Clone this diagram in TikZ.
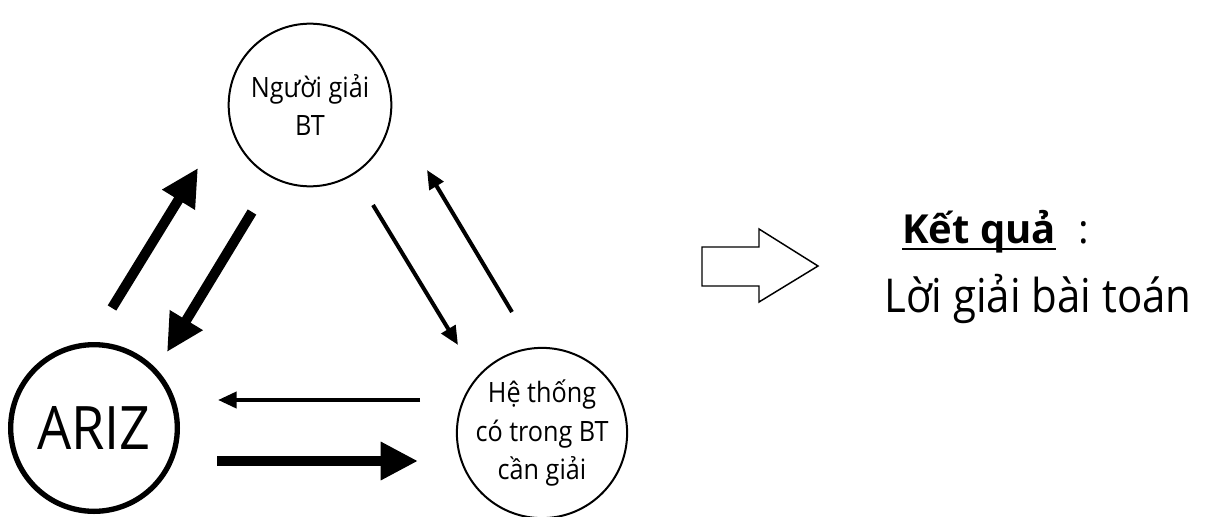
\documentclass[tikz,border=0pt]{standalone}
\usepackage{fontspec}
\setmainfont[FakeStretch=0.9]{Open Sans}
\newfontfamily\headfont{Open Sans}
\usetikzlibrary{arrows.meta}

\tikzset{
  bubble/.style={circle, draw, line width=1.5pt, minimum size=122pt, inner sep=0pt,
    align=center, font=\fontsize{21}{29}\selectfont},
  heavy/.style={line width=7.5pt, -{Triangle[length=28pt, width=27pt]}},
  light/.style={line width=3pt, -{Triangle[length=14pt, width=12pt]}},
  label/.style={anchor=base west, inner sep=0pt},
}

\begin{document}
\begin{tikzpicture}[x=0.75pt, y=-0.75pt]
\useasboundingbox (0,0) rectangle (1223,517);

% the three participants
\node[bubble] (solver) at (310,105) {Người giải\\BT};
\node[bubble] (system) at (542,433) {Hệ thống\\có trong BT\\cần giải};
\node[circle, draw, line width=4pt, minimum size=125pt, inner sep=0pt,
      font=\fontsize{45}{50}\selectfont] (ariz) at (94,428) {ARIZ};

% end points of the exchange arrows
\coordinate (a1) at (112,308);  \coordinate (a2) at (198,168);
\coordinate (b1) at (252,212);  \coordinate (b2) at (167,352);
\coordinate (c1) at (373,205);  \coordinate (c2) at (458,345);
\coordinate (d1) at (512,312);  \coordinate (d2) at (427,170);
\coordinate (e1) at (420,400);  \coordinate (e2) at (218,400);
\coordinate (f1) at (217,461);  \coordinate (f2) at (418,461);

\draw[heavy] (a1) -- (a2);
\draw[heavy] (b1) -- (b2);
\draw[light] (c1) -- (c2);
\draw[light] (d1) -- (d2);
\draw[light] (e1) -- (e2);
\draw[heavy] (f1) -- (f2);

% hollow block arrow towards the result
\draw[line width=1.1pt, line join=miter]
  (702,247) -- (759,247) -- (759,229) -- (818,266) -- (759,302) -- (759,286) -- (702,286) -- cycle;

% result
\node[label, font=\headfont\fontsize{30}{34}\selectfont\bfseries] (kq) at (902,243) {Kết quả};
\draw[line width=2.2pt] ([yshift=-4.5pt]kq.base west) -- ([yshift=-4.5pt]kq.base east);
\node[label, font=\headfont\fontsize{30}{34}\selectfont] (colon) at (1078,243) {:};
\node[label, font=\fontsize{35}{40}\selectfont] (sol) at (884,312) {Lời giải bài toán};
\end{tikzpicture}
\end{document}
